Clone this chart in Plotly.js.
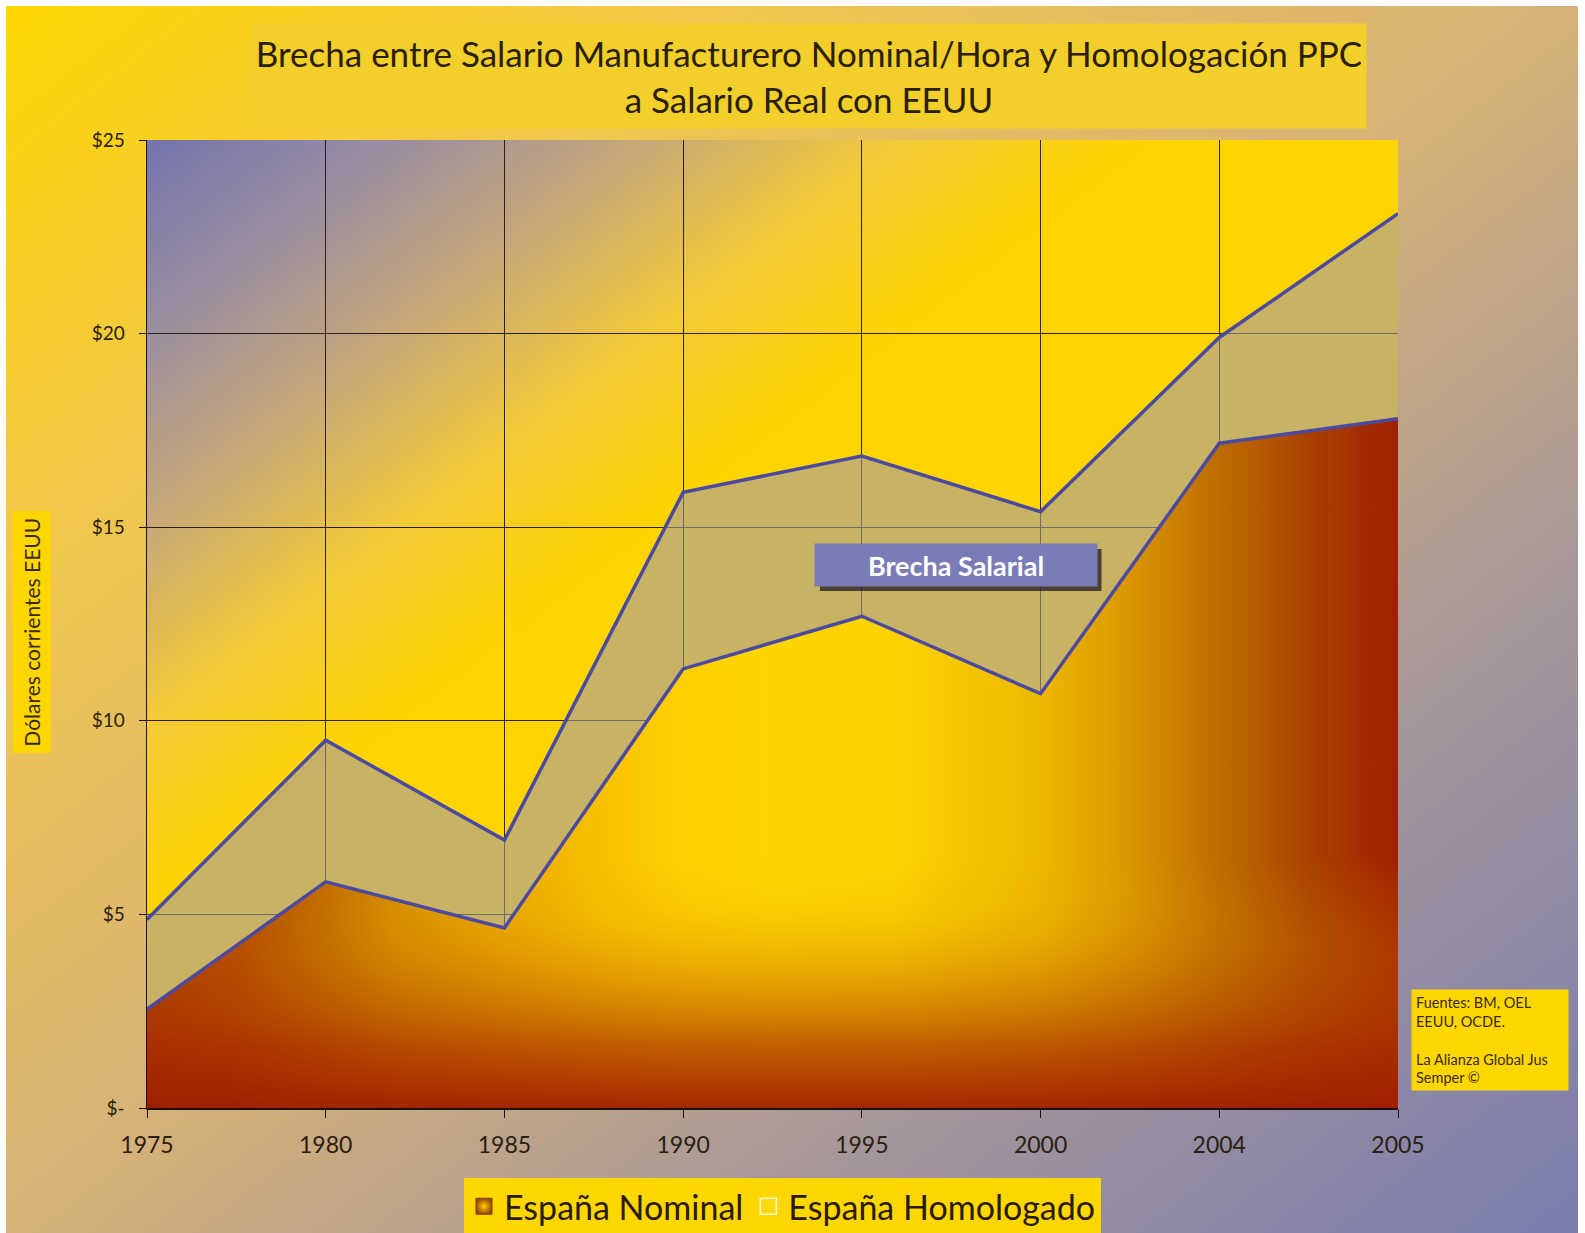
<!DOCTYPE html>
<html><head><meta charset="utf-8">
<script src="https://cdn.plot.ly/plotly-3.0.1.min.js"></script>
<style>
html,body{margin:0;padding:0;background:#fff;}
#bg{position:absolute;left:6px;top:6px;width:1572px;height:1227px;background:linear-gradient(to bottom right,#FFD600 0%,#F2C84A 22%,#D6B278 50%,#A89898 72%,#7A7CB0 100%);}
#chart{position:absolute;left:0;top:0;width:1585px;height:1233px;}
</style></head><body>
<div id="bg"></div><div id="chart"></div>
<script>
const years = ['1975','1980','1985','1990','1995','2000','2004','2005'];
const nominal = [2.55, 5.84, 4.65, 11.34, 12.7, 10.7, 17.17, 17.8];
const homologado = [4.87, 9.5, 6.92, 15.9, 16.84, 15.4, 19.9, 23.1];
const yTickVals = [0, 5, 10, 15, 20, 25];
const yTickText = ['$-', '$5', '$10', '$15', '$20', '$25'];
const seriesNames = ['España Nominal', 'España Homologado'];
const titleLines = ['Brecha entre Salario Manufacturero Nominal/Hora y Homologación PPC', 'a Salario Real con EEUU'];
const yTitle = 'Dólares corrientes EEUU';
const gapLabel = 'Brecha Salarial';
const sourceLines = ['Fuentes: BM, OEL', 'EEUU, OCDE.', '', 'La Alianza Global Jus', 'Semper ©'];

const FONT = 'Lato, "Open Sans", sans-serif';
const LINE = '#4C4AA0';

const plotBgSvg = '<svg xmlns="http://www.w3.org/2000/svg" width="100" height="100" viewBox="0 0 100 100" preserveAspectRatio="none">' +
  '<defs><linearGradient id="g" x1="0" y1="0" x2="1" y2="1">' +
  '<stop offset="0" stop-color="#7474AE"/><stop offset="0.1" stop-color="#9A8EA0"/>' +
  '<stop offset="0.2" stop-color="#C8A878"/><stop offset="0.3" stop-color="#F2CA38"/>' +
  '<stop offset="0.4" stop-color="#FFD400"/><stop offset="1" stop-color="#FFD600"/></linearGradient></defs>' +
  '<rect width="100" height="100" fill="url(#g)"/></svg>';

const horizScale = [[0,'#A02800'],[0.07,'#AC3C00'],[0.143,'#C06A00'],[0.2,'#D68E00'],[0.286,'#EAAA00'],[0.37,'#F8C400'],[0.43,'#FFD000'],[0.5,'#FFD500'],[0.6,'#FDD200'],[0.714,'#EDB800'],[0.79,'#D89400'],[0.857,'#BE6C00'],[0.93,'#AA4000'],[1,'#A02000']];
const bottomScale = [[0,'rgba(160,30,0,0.95)'],[0.25,'rgba(170,50,0,0.72)'],[0.5,'rgba(190,90,0,0.42)'],[0.78,'rgba(220,150,0,0.14)'],[1,'rgba(230,170,0,0)']];

const traces = [
  {
    x: years, y: nominal, type: 'scatter', mode: 'none', name: seriesNames[0],
    fill: 'tozeroy', showlegend: false, hoverinfo: 'skip',
    fillcolor: '#E8B000',
    fillgradient: {type: 'horizontal', colorscale: horizScale}
  },
  {
    x: years, y: nominal, type: 'scatter', mode: 'lines', name: seriesNames[0],
    fill: 'tozeroy', showlegend: false, hoverinfo: 'x+y',
    line: {color: LINE, width: 3.5},
    fillcolor: 'rgba(0,0,0,0)',
    fillgradient: {type: 'vertical', start: 0, stop: 6.5, colorscale: bottomScale}
  },
  {
    x: years, y: homologado, type: 'scatter', mode: 'lines', name: seriesNames[1],
    fill: 'tonexty', showlegend: false, hoverinfo: 'x+y',
    line: {color: LINE, width: 3.5},
    fillcolor: 'rgba(163,155,167,0.6)'
  },
  {
    x: [null], y: [null], type: 'scatter', mode: 'markers', name: seriesNames[0],
    marker: {symbol: 'square', size: 20, color: '#9A4A00', gradient: {type: 'radial', color: '#FFD000'}, line: {color: '#7a3a00', width: 1}}
  },
  {
    x: [null], y: [null], type: 'scatter', mode: 'markers', name: seriesNames[1],
    marker: {symbol: 'square', size: 20, color: 'rgba(255,255,255,0.05)', line: {color: '#FFF6DC', width: 1.5}}
  }
];

const layout = {
  width: 1585, height: 1233,
  margin: {l: 147, r: 187, t: 140, b: 125, autoexpand: false},
  paper_bgcolor: 'rgba(0,0,0,0)',
  plot_bgcolor: 'rgba(0,0,0,0)',
  font: {family: FONT, color: '#2a2010'},
  images: [{
    source: 'data:image/svg+xml;charset=utf-8,' + encodeURIComponent(plotBgSvg),
    xref: 'paper', yref: 'paper', x: 0, y: 1, sizex: 1, sizey: 1,
    sizing: 'stretch', layer: 'below'
  }],
  xaxis: {
    type: 'category', range: [0, 7],
    showgrid: true, gridcolor: '#2a2020', gridwidth: 1,
    showline: true, linecolor: '#1a1010', linewidth: 1.5,
    ticks: 'outside', ticklen: 8, tickcolor: '#1a1010',
    tickfont: {size: 23, color: '#2a2010'}, ticklabelstandoff: 8
  },
  yaxis: {
    range: [0, 25], tickvals: yTickVals, ticktext: yTickText,
    showgrid: true, gridcolor: '#2a2020', gridwidth: 1, zeroline: false,
    showline: true, linecolor: '#1a1010', linewidth: 1.5,
    ticks: 'outside', ticklen: 7, tickcolor: '#1a1010',
    tickfont: {size: 19, color: '#2a2010'}, ticklabelstandoff: 10
  },
  showlegend: true,
  legend: {
    orientation: 'h', traceorder: 'normal',
    x: 0.508, xanchor: 'center', y: -0.072, yanchor: 'top',
    bgcolor: '#FFD700', font: {size: 34, color: '#2a1a00', family: FONT},
    itemclick: false, itemdoubleclick: false, tracegroupgap: 0
  },
  shapes: [{
    type: 'rect', xref: 'paper', yref: 'paper',
    x0: 0.5379, x1: 0.7630, y0: 0.5341, y1: 0.5775,
    line: {width: 0}, fillcolor: 'rgba(35,25,35,0.75)', layer: 'above'
  }],
  annotations: [
    {
      xref: 'paper', yref: 'paper', x: 0.529, y: 1.066, xanchor: 'center', yanchor: 'middle',
      text: titleLines.join('<br>'), showarrow: false,
      font: {size: 35, color: '#2a2000', family: FONT},
      bgcolor: '#F3CF2C', borderpad: 5, width: 1104, height: 94
    },
    {
      xref: 'paper', yref: 'paper', x: -0.092, y: 0.492, xanchor: 'center', yanchor: 'middle',
      text: yTitle, textangle: -90, showarrow: false,
      font: {size: 21, color: '#3a2a10', family: FONT},
      bgcolor: '#FFD700', borderpad: 6
    },
    {
      xref: 'paper', yref: 'paper', x: 0.647, y: 0.561, xanchor: 'center', yanchor: 'middle',
      text: '<b>' + gapLabel + '</b>', showarrow: false,
      font: {size: 27, color: '#FFFFFF', family: FONT},
      bgcolor: '#7A7CB6', borderpad: 3, width: 276, height: 36
    },
    {
      xref: 'paper', yref: 'paper', x: 1.0104, y: 0.123, xanchor: 'left', yanchor: 'top',
      text: sourceLines.join('<br>'), showarrow: false, align: 'left',
      font: {size: 14.5, color: '#3a2a10', family: FONT},
      bgcolor: '#FFD700', borderpad: 4, width: 148
    }
  ]
};

Plotly.newPlot('chart', traces, layout, {displayModeBar: false, staticPlot: true});
</script>
</body></html>
